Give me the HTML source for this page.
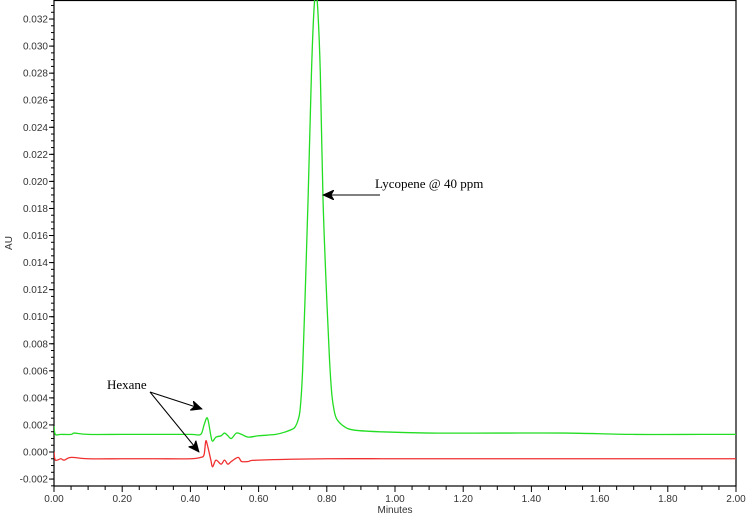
<!DOCTYPE html>
<html><head><meta charset="utf-8">
<style>
html,body{margin:0;padding:0;background:#fff;}
svg{display:block;}
.tk{font-family:"Liberation Sans",sans-serif;font-size:10px;fill:#333;}
.ann{font-family:"Liberation Serif",serif;font-size:13px;fill:#000;}
</style></head>
<body>
<svg id="chart" width="749" height="515" xmlns="http://www.w3.org/2000/svg"></svg>
<script>
const xTicks=["0.00","0.20","0.40","0.60","0.80","1.00","1.20","1.40","1.60","1.80","2.00"];
const yTicks=["-0.002","0.000","0.002","0.004","0.006","0.008","0.010","0.012","0.014","0.016","0.018","0.020","0.022","0.024","0.026","0.028","0.030","0.032"];
const greenT=[0,0.004,0.02,0.05,0.06,0.1,0.2,0.3,0.4,0.43,0.44,0.45,0.46,0.465,0.475,0.49,0.50,0.51,0.52,0.535,0.55,0.57,0.6,0.65,0.68,0.70,0.707,0.715,0.722,0.729,0.736,0.745,0.755,0.762,0.768,0.774,0.781,0.789,0.80,0.808,0.815,0.822,0.83,0.85,0.877,0.95,1.1,1.3,1.5,1.7,1.9,2.0];
const greenV=[0.0019,0.0013,0.0013,0.0013,0.0014,0.0013,0.0013,0.0013,0.0013,0.0013,0.0020,0.0025,0.0012,0.0008,0.0011,0.0012,0.0014,0.0012,0.0010,0.0014,0.0013,0.0011,0.0012,0.0013,0.0015,0.0017,0.00185,0.0023,0.0032,0.0060,0.0112,0.0186,0.028,0.0325,0.0340,0.0325,0.028,0.0186,0.0112,0.0068,0.0042,0.0030,0.0024,0.0019,0.00163,0.0015,0.0014,0.0014,0.0014,0.0013,0.0013,0.0013];
const redT=[0,0.004,0.02,0.03,0.05,0.1,0.2,0.3,0.4,0.43,0.44,0.445,0.45,0.46,0.465,0.475,0.49,0.50,0.51,0.52,0.54,0.55,0.57,0.6,0.8,1.0,1.2,1.4,1.6,1.8,2.0];
const redV=[0.0000,-0.0006,-0.0005,-0.0006,-0.0004,-0.0005,-0.0005,-0.0005,-0.0005,-0.0004,-0.0002,0.0008,0.0005,-0.0006,-0.0011,-0.0006,-0.0009,-0.0006,-0.0009,-0.0007,-0.0004,-0.0007,-0.0007,-0.0006,-0.0005,-0.0005,-0.0005,-0.0005,-0.0005,-0.0005,-0.0005];

const NS="http://www.w3.org/2000/svg";
const svg=document.getElementById('chart');
const X0=54,X1=736,Y0v=452,PER=13.53/0.001;
const xs=t=>X0+(t/2)*(X1-X0);
const ys=v=>Y0v-v*PER;
function mk(tag,attrs){const e=document.createElementNS(NS,tag);for(const k in attrs)e.setAttribute(k,attrs[k]);svg.appendChild(e);return e;}

const frame=mk('rect',{x:X0,y:0.5,width:X1-X0,height:486-0.5,fill:'none',stroke:'#000','stroke-width':1.2});



for(let i=0;i<yTicks.length;i++){
  const v=parseFloat(yTicks[i]),y=ys(v);
  const l=mk('line',{x1:X0-5,x2:X0,y1:y,y2:y,stroke:'#000'});
  
  
  const t=mk('text',{x:X0-6,y:y+3.5,'text-anchor':'end',class:'tk'});
  t.textContent=yTicks[i];
  
  
}
for(let v=-0.0025;v<=0.0334;v+=0.0005){
  const y=ys(v);if(y<1||y>486)continue;
  const l=mk('line',{x1:X0-3,x2:X0,y1:y,y2:y,stroke:'#000'});
  
  
}
for(let i=0;i<xTicks.length;i++){
  const x=xs(parseFloat(xTicks[i]));
  const l=mk('line',{x1:x,x2:x,y1:486,y2:492,stroke:'#000'});
  
  
  const t=mk('text',{x:x,y:502,'text-anchor':'middle',class:'tk'});
  t.textContent=xTicks[i];
  
  
}
for(let k=1;k<40;k++){
  if(k%4===0)continue;
  const x=xs(k*0.05);
  const l=mk('line',{x1:x,x2:x,y1:486,y2:490,stroke:'#000'});
  
  
}
const xt=mk('text',{x:395,y:513,'text-anchor':'middle',class:'tk'});xt.textContent='Minutes';


const yt=mk('text',{x:12,y:243,'text-anchor':'middle',class:'tk',transform:'rotate(-90 12 243)'});yt.textContent='AU';



const defs=mk('defs',{});
const cp=document.createElementNS(NS,'clipPath');cp.setAttribute('id','pc');
const cr=document.createElementNS(NS,'rect');cr.setAttribute('x',X0);cr.setAttribute('y',0);cr.setAttribute('width',X1-X0);cr.setAttribute('height',486);
cp.appendChild(cr);defs.appendChild(cp);

function series(T,V,color,name){
  const P=T.map((t,i)=>[xs(t),ys(V[i])]);
  let d='M'+P[0][0].toFixed(2)+','+P[0][1].toFixed(2);
  for(let i=0;i<P.length-1;i++){
    const p0=P[Math.max(0,i-1)],p1=P[i],p2=P[i+1],p3=P[Math.min(P.length-1,i+2)];
    const c1=[p1[0]+(p2[0]-p0[0])/6,p1[1]+(p2[1]-p0[1])/6];
    const c2=[p2[0]-(p3[0]-p1[0])/6,p2[1]-(p3[1]-p1[1])/6];
    d+='C'+c1[0].toFixed(2)+','+c1[1].toFixed(2)+' '+c2[0].toFixed(2)+','+c2[1].toFixed(2)+' '+p2[0].toFixed(2)+','+p2[1].toFixed(2);
  }
  const p=mk('path',{d:d,fill:'none',stroke:color,'stroke-width':1.3,'clip-path':'url(#pc)','stroke-linejoin':'round'});
  
  
}
series(redT,redV,'#f03030','red-trace-blank');
series(greenT,greenV,'#22dd22','green-trace-lycopene');

const ah=mk('defs',{});
const mkr=document.createElementNS(NS,'marker');
mkr.setAttribute('id','arr');mkr.setAttribute('markerWidth','12');mkr.setAttribute('markerHeight','10');
mkr.setAttribute('refX','11');mkr.setAttribute('refY','5');mkr.setAttribute('orient','auto');mkr.setAttribute('markerUnits','userSpaceOnUse');
const mp=document.createElementNS(NS,'path');mp.setAttribute('d','M0,0 L11,5 L0,10 L3,5 Z');mp.setAttribute('fill','#000');mp.setAttribute('stroke','#000');mp.setAttribute('stroke-width','0.8');
mkr.appendChild(mp);ah.appendChild(mkr);

const ht=mk('text',{x:107,y:389,class:'ann'});ht.textContent='Hexane';


const a1=mk('line',{x1:150,y1:392,x2:202,y2:409,stroke:'#000','marker-end':'url(#arr)'});


const a2=mk('line',{x1:150,y1:392,x2:199,y2:452,stroke:'#000','marker-end':'url(#arr)'});


const lt=mk('text',{x:375,y:188,class:'ann'});lt.textContent='Lycopene @ 40 ppm';


const a3=mk('line',{x1:380,y1:195,x2:323,y2:195,stroke:'#000','marker-end':'url(#arr)'});


</script>
</body></html>
